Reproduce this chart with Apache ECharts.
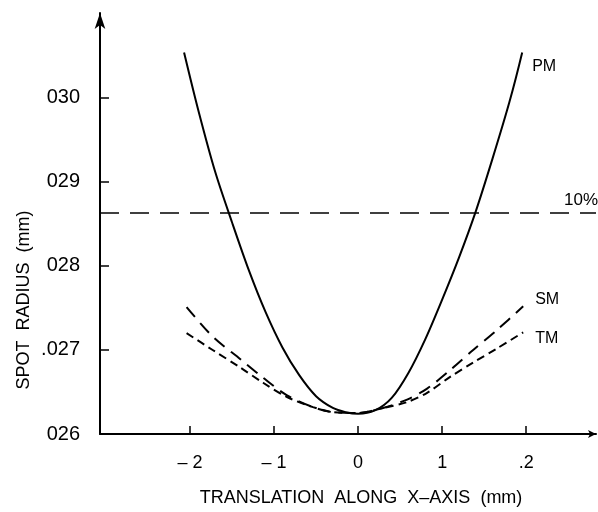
<!DOCTYPE html>
<html>
<head>
<meta charset="utf-8">
<script src="https://cdn.jsdelivr.net/npm/echarts@6/dist/echarts.min.js"></script>
<style>html,body{margin:0;padding:0;background:#fff}#c{width:598px;height:512px}</style>
</head>
<body>
<div id="c"></div>
<script>
const pmX = [-2.07,-1.9,-1.7,-1.5,-1.3,-1.1,-0.9,-0.7,-0.5,-0.3,-0.15,0,0.2,0.4,0.6,0.8,1.0,1.2,1.4,1.6,1.8,1.952];
const pmY = [0.03054,0.02985,0.02912,0.02852,0.02795,0.02745,0.02703,0.02670,0.02645,0.02631,0.02626,0.02624,0.02628,0.02643,0.02673,0.02713,0.02760,0.02810,0.02865,0.02928,0.02995,0.03054];
const smX = [-2.04,-1.73,-1.40,-1.13,-0.845,-0.536,-0.30,0,0.298,0.583,0.821,1.095,1.369,1.655,1.964];
const smY = [0.02751,0.02716,0.02689,0.02667,0.02646,0.02632,0.02626,0.02625,0.02631,0.02641,0.02654,0.02676,0.02700,0.02724,0.02752];
const tmX = [-2.04,-1.73,-1.40,-1.13,-0.845,-0.536,-0.30,0,0.298,0.583,0.821,1.095,1.369,1.655,1.964];
const tmY = [0.02720,0.02700,0.02679,0.02661,0.02644,0.02632,0.02626,0.02625,0.02631,0.02638,0.02649,0.02668,0.02685,0.02702,0.02721];
const refX = [-3.07,2.83];
const refY = [0.02863,0.02863];
const xTickValues = [-2,-1,0,1,2];
const xTickLabels = ['\u2013 2','\u2013 1','0','1','.2'];
const yTickValues = [0.026,0.027,0.028,0.029,0.030];
const yTickLabels = ['026','.027','028','029','030'];
const seriesNames = ['PM','SM','TM','10%'];

const zip = (a,b)=>a.map((v,i)=>[v,b[i]]);
const lab = (vals,labs)=>v=>{const i=vals.findIndex(t=>Math.abs(t-v)<1e-9);return i>=0?labs[i]:'';};
const FONT = '"Liberation Sans", Arial, sans-serif';
const chart = echarts.init(document.getElementById('c'));
chart.setOption({
  animation:false,
  backgroundColor:'#fff',
  grid:{left:100,right:2,top:13,bottom:78,containLabel:false},
  xAxis:{type:'value',min:-3.07,max:2.83,
    axisLine:{onZero:false,lineStyle:{color:'#000',width:2},symbol:['none','arrow'],symbolSize:[6,8]},
    axisTick:{show:true,inside:true,length:8,lineStyle:{color:'#000',width:1.5},customValues:xTickValues},
    axisLabel:{customValues:xTickValues,formatter:lab(xTickValues,xTickLabels),color:'#000',fontSize:18,fontFamily:FONT,margin:20},
    splitLine:{show:false}
  },
  yAxis:{type:'value',min:0.026,max:0.03101,
    axisLine:{show:true,onZero:false,lineStyle:{color:'#000',width:2},symbol:['none','arrow'],symbolSize:[8,16]},
    axisTick:{show:true,inside:true,length:9,lineStyle:{color:'#000',width:1.5},customValues:yTickValues},
    axisLabel:{customValues:yTickValues,formatter:lab(yTickValues,yTickLabels),color:'#000',fontSize:20,fontFamily:FONT,margin:20},
    splitLine:{show:false}
  },
  series:[
    {name:seriesNames[0],type:'line',data:zip(pmX,pmY),smooth:0.3,symbol:'none',
     lineStyle:{color:'#000',width:2},
     endLabel:{show:true,formatter:seriesNames[0],color:'#000',fontSize:16,fontFamily:FONT,offset:[2,14]}},
    {name:seriesNames[1],type:'line',data:zip(smX,smY),smooth:0.3,symbol:'none',
     lineStyle:{color:'#000',width:2,type:[13,8]},
     endLabel:{show:true,formatter:seriesNames[1],color:'#000',fontSize:16,fontFamily:FONT,offset:[4,-7]}},
    {name:seriesNames[2],type:'line',data:zip(tmX,tmY),smooth:0.3,symbol:'none',
     lineStyle:{color:'#000',width:2,type:[8,5]},
     endLabel:{show:true,formatter:seriesNames[2],color:'#000',fontSize:16,fontFamily:FONT,offset:[4,6]}},
    {name:seriesNames[3],type:'line',data:zip(refX,refY),symbol:'none',
     lineStyle:{color:'#000',width:1.3,type:[19,11]},
     endLabel:{show:true,formatter:seriesNames[3],color:'#000',fontSize:17,fontFamily:FONT,offset:[-40,-13]}}
  ],
  graphic:[
    {type:'text',x:361,y:498,style:{text:'TRANSLATION  ALONG  X\u2013AXIS  (mm)',fill:'#000',font:'18px '+FONT,textAlign:'center',textVerticalAlign:'middle'}},
    {type:'text',rotation:Math.PI/2,x:24,y:300,style:{text:'SPOT  RADIUS  (mm)',fill:'#000',font:'18px '+FONT,textAlign:'center',textVerticalAlign:'middle'}}
  ]
});
</script>
</body>
</html>
